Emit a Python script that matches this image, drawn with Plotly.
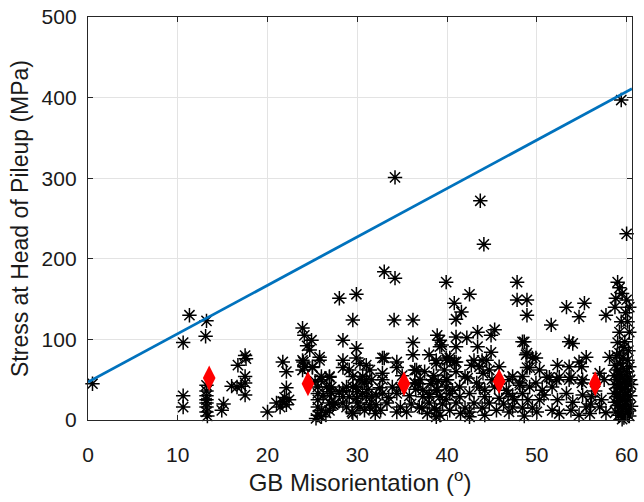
import plotly.graph_objects as go

# GB misorientation (deg), stress at head of pileup (MPa)
stars = [
    # low angles
    (0.5,45),(10.6,96),(11.3,130),(13.2,123),(13.1,104),(10.6,30),(10.6,16),
    (13.2,43),(13.2,36),(13.2,30),(13.2,25),(13.2,21),(13.2,16),(13.2,10),(13.3,5),
    (14.9,12),(15.1,20),(16.0,42),(16.6,41),(17.1,42),(17.5,46),(17.5,54),(17.5,31),(16.7,68),(17.5,80),(17.6,76),
    (20.0,10),(21.0,21),(21.7,23),(22.1,19),(21.4,16),(21.7,72),(22.1,60),(22.1,40),(22.4,25),(21.9,28),
    # 23.5 - 27.5
    (23.9,114),(24.1,105),(24.9,99),(24.7,87),(25.8,78),(23.9,74),(24.1,66),(25.0,66),(26.0,54),(26.9,54),
    (25.6,41),(25.6,33),(25.6,25),(25.6,16),(25.6,6),(26.6,41),(26.9,21),(24.4,92),(25.0,65),(27.5,21),
    (26.9,12),(25.3,48),(26.2,30),(27.0,35),(24.0,72),(23.9,62),(25.8,74),(26.0,50),(27.3,19),(27.1,33),(26.5,9),(25.4,2),
    # 28 - 32.5
    (28.0,151),(29.9,156),(29.5,124),(28.4,99),(28.4,74),(28.4,65),(29.9,89),(29.9,77),(29.1,62),(30.3,70),
    (31.0,68),(29.5,54),(30.6,54),(28.8,41),(29.9,41),(30.8,46),(31.4,62),(28.4,29),(29.1,29),(29.9,27),
    (31.0,29),(31.6,29),(28.8,16),(30.3,16),(31.4,16),(32.1,19),(30.0,35),(31.2,38),(28.0,35),(32.5,40),
    (32.0,8),(29.5,8),(26.9,53),(30.3,50),(31.0,50),(31.6,50),(27.1,41),(28.4,37),(29.5,41),(30.6,33),
    (32.1,31),(27.3,19),(28.4,21),(30.0,21),(31.4,19),(29.4,10),(30.8,12),(26.0,12),(26.0,4),
    # 32.5 - 36.5
    (32.8,77),(33.0,77),(34.4,72),(34.4,65),(36.2,96),(36.2,81),(32.8,58),(32.8,50),(33.0,184),(34.2,176),
    (34.1,124),(36.2,124),(34.2,301),(32.8,33),(33.3,21),(34.4,33),(34.4,10),(33.9,41),(34.8,40),(35.8,30),
    (36.0,20),(36.5,38),(35.5,10),(36.8,45),(36.4,62),(36.4,46),(35.0,55),(34.8,16),(33.5,28),(32.6,12),
    # 36.5 - 46
    (37.3,29),(38.8,37),(38.0,21),(38.8,12),(39.2,99),(39.2,91),(39.9,171),(38.8,70),(39.7,62),(39.9,77),
    (39.9,41),(39.2,29),(38.8,4),(37.0,50),(37.5,60),(38.2,45),(37.8,8),(38.5,55),(39.5,20),(40.0,50),
    (37.2,15),(38.0,32),(39.0,48),(42.5,156),(40.8,145),(41.6,134),(41.0,125),(47.8,171),(47.8,149),
    (48.9,149),(48.9,130),(38.9,105),(41.0,103),(42.2,102),(43.4,109),(45.3,112),(44.9,105),(39.4,93),
    (41.0,91),(43.4,91),(48.6,97),(44.9,84),(38.0,81),(38.8,74),(40.3,77),(41.0,72),(43.0,74),(44.4,74),
    (48.8,81),(43.6,66),(44.7,62),(45.8,66),(36.6,62),(41.0,60),(42.3,52),(39.9,50),(38.4,50),(47.3,54),
    (48.4,54),(46.6,37),(43.3,46),(44.2,37),(42.5,33),(40.6,37),(38.9,37),(37.3,37),(36.4,46),(38.0,29),
    (39.9,25),(41.4,29),(44.2,29),(45.8,27),(47.3,29),(48.4,33),(36.9,16),(38.6,15),(40.3,12),(42.5,10),
    (43.9,15),(45.5,12),(46.9,10),(48.4,15),(39.2,6),(42.5,4),(40.0,74),(40.8,72),(42.7,68),(43.9,74),
    (42.0,54),(41.4,41),(43.6,41),(41.0,21),(43.0,21),(44.7,21),(40.3,33),(45.0,50),(45.3,41),(44.0,58),
    (46.3,20),(42.0,15),(44.2,6),(41.5,8),(43.7,272),(44.1,218),
    # 46 - 58
    (48.4,97),(48.9,83),(49.9,77),(53.6,97),(54.0,95),(55.5,78),(54.7,72),(58.1,78),(51.6,118),(53.3,140),
    (55.3,145),(54.7,128),(57.7,130),(52.3,68),(53.6,66),(55.0,66),(51.1,53),(52.2,50),(53.8,53),(55.1,50),
    (46.9,50),(48.1,46),(49.9,46),(50.3,62),(49.2,65),(48.9,65),(49.5,77),(57.0,58),(57.5,50),(55.0,46),
    (53.6,50),(52.5,53),(51.4,53),(51.7,41),(50.6,37),(49.2,41),(48.1,43),(53.3,33),(55.1,31),(56.1,29),
    (57.2,25),(52.3,25),(50.3,25),(49.0,25),(55.5,16),(57.0,16),(53.8,12),(51.7,12),(49.5,15),(57.7,9),
    (54.7,6),(47.5,25),(46.8,33),(47.3,16),(50.0,10),(52.5,8),(54.0,22),(56.5,36),(56.0,20),(50.8,31),
    (48.6,5),(55.9,8),
    # 58.5 - 60.8 column
    (59.0,171),(59.2,164),(59.5,157),(58.8,151),(60.0,149),(59.4,122),(60.1,122),(59.2,109),(60.3,109),
    (59.0,96),(59.7,90),(59.2,83),(60.1,74),(60.0,231),(59.4,397),
    (58.7,68),(59.0,62),(59.3,70),(59.6,64),(60.0,60),(60.3,66),
    (58.6,55),(58.9,50),(59.2,56),(59.5,52),(59.8,48),(60.1,54),(60.4,50),
    (58.7,44),(59.0,40),(59.3,45),(59.6,38),(59.9,42),(60.2,36),(60.5,44),
    (58.6,33),(58.9,29),(59.2,34),(59.5,27),(59.8,31),(60.1,25),(60.4,30),
    (58.7,22),(59.0,18),(59.3,24),(59.6,15),(59.9,20),(60.2,13),(60.5,17),
    (58.8,10),(59.1,6),(59.4,11),(59.7,3),(60.0,8),(60.3,5),(59.5,1),
    (58.9,80),(59.6,77),(60.2,86),(59.8,97),(60.3,140),(59.9,133),(58.7,140),(60.8,15),(60.7,30),
]
star_x = [p[0] for p in stars]
star_y = [p[1] for p in stars]

fit_x = [0, 60.6]
fit_y = [47, 411]

avg_x = [13.5, 24.5, 35.2, 45.8, 56.5]
avg_y = [52, 45, 45, 48, 45]

x_ticks = [0, 10, 20, 30, 40, 50, 60]
y_ticks = [0, 100, 200, 300, 400, 500]

FONT = "Liberation Sans, Arial, sans-serif"
AX = "#262626"
TXT = "#1a1a1a"

fig = go.Figure()
fig.add_trace(go.Scatter(
    x=star_x, y=star_y, mode="markers", cliponaxis=False,
    marker=dict(symbol="asterisk-open", size=12, color="black",
                line=dict(color="black", width=1.5)),
    showlegend=False))
fig.add_trace(go.Scatter(
    x=fit_x, y=fit_y, mode="lines",
    line=dict(color="#0072BD", width=2.8), showlegend=False))
fig.add_trace(go.Scatter(
    x=avg_x, y=avg_y, mode="markers", cliponaxis=False,
    marker=dict(symbol="diamond-tall", size=18, color="#FF0000",
                line=dict(width=0)),
    showlegend=False))

axis_common = dict(
    showline=True, linecolor=AX, linewidth=1.3, mirror="allticks",
    ticks="inside", ticklen=5, tickcolor=AX, tickwidth=1,
    showgrid=True, gridcolor="#E3E3E3", gridwidth=1,
    zeroline=False, tickfont=dict(family=FONT, size=21, color=TXT),
)

fig.update_xaxes(
    range=[0, 60.6], tickvals=x_ticks, ticktext=[str(v) for v in x_ticks],
    ticklabelstandoff=16,
    title=dict(text="GB Misorientation (<sup>o</sup>)",
               font=dict(family=FONT, size=24, color=TXT), standoff=0),
    **axis_common)
fig.update_yaxes(
    range=[0, 500], tickvals=y_ticks, ticktext=[str(v) for v in y_ticks],
    ticklabelstandoff=6,
    title=dict(text="Stress at Head of Pileup (MPa)",
               font=dict(family=FONT, size=23, color=TXT), standoff=6),
    **axis_common)

fig.update_layout(
    width=644, height=502,
    margin=dict(l=88, r=12, t=17, b=82, autoexpand=False),
    paper_bgcolor="white", plot_bgcolor="white",
    font=dict(family=FONT),
)

fig.write_html("out.html")
